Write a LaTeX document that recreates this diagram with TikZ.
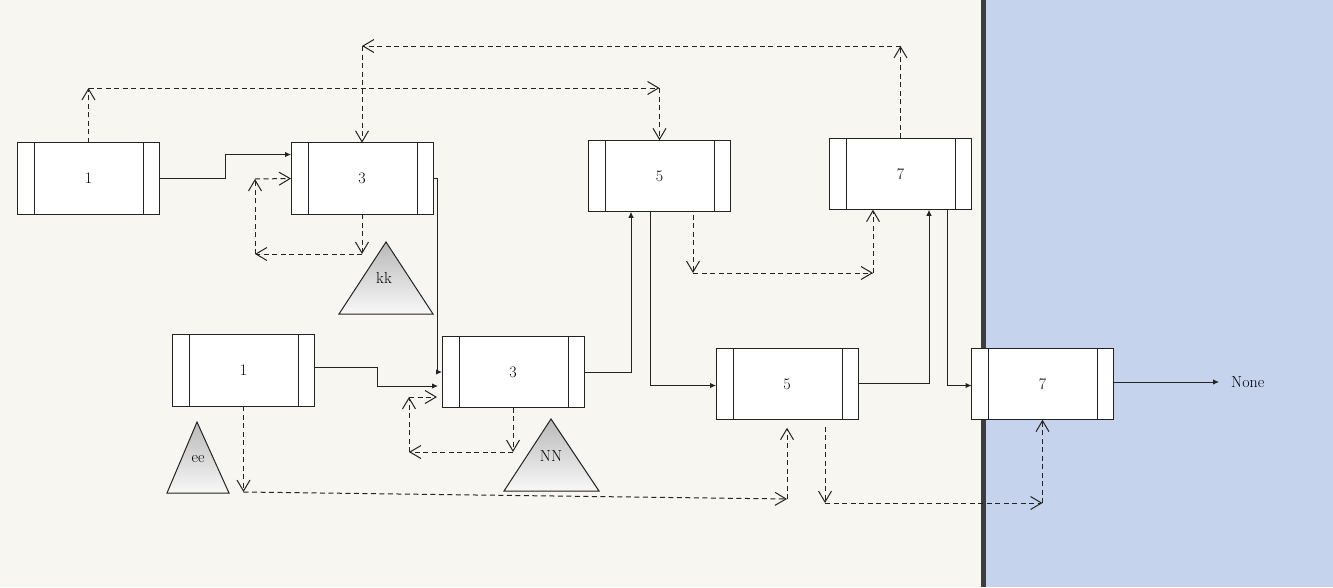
\documentclass[tikz,border=0pt]{standalone}
\usetikzlibrary{arrows.meta}
\definecolor{cream}{RGB}{248,246,240}
\definecolor{paneblue}{RGB}{197,211,237}
\definecolor{bar}{RGB}{60,60,60}
\definecolor{ink}{RGB}{35,35,35}
\definecolor{trtop}{RGB}{185,185,185}
\definecolor{trbot}{RGB}{248,248,248}
\begin{document}
\begin{tikzpicture}[x=1pt,y=-1pt,
  cell/.style={draw=ink, line width=1pt, fill=white, rectangle, inner sep=0pt, outer sep=0pt,
    minimum width=142pt, minimum height=71.5pt, font=\fontsize{16}{18}\selectfont,
    path picture={\draw[ink, line width=1pt]
      ([xshift=17pt]path picture bounding box.north west) -- ([xshift=17pt]path picture bounding box.south west)
      ([xshift=-16pt]path picture bounding box.north east) -- ([xshift=-16pt]path picture bounding box.south east);}},
  sarr/.style={draw=ink, line width=1pt, -{Latex[length=6pt,width=5.5pt]}},
  darr/.style={draw=ink, line width=1pt, dash pattern=on 5pt off 3.5pt, -{Straight Barb[length=11pt,width=13pt]}},
  tri/.style={draw=ink, line width=1pt, top color=trtop, bottom color=trbot},
  lbl/.style={inner sep=0pt, font=\fontsize{16}{18}\selectfont}]
\useasboundingbox (0,0) rectangle (1333,587);
% background panes
\fill[cream] (0,0) rectangle (981,587);
\fill[paneblue] (986,0) rectangle (1333,587);
\fill[bar] (981,0) rectangle (986,587);

% boxes
\node[cell] (A1) at (88.5,178.5) {1};
\node[cell] (A3) at (362,178.5) {3};
\node[cell] (A5) at (659.5,176) {5};
\node[cell] (A7) at (900.5,174) {7};
\node[cell] (B1) at (243.5,370.5) {1};
\node[cell] (B3) at (513,372) {3};
\node[cell] (B5) at (787,384) {5};
\node[cell] (B7) at (1042.5,384) {7};

% triangles
\shade[tri] (386,242) -- (433,314) -- (339,314) -- cycle;
\node[lbl] (kk) at (384,278) {kk};
\shade[tri] (551,419) -- (599,491) -- (504,491) -- cycle;
\node[lbl] (NN) at (551,456) {NN};
\shade[tri] (197,422) -- (229,493) -- (167,493) -- cycle;
\node[lbl] (ee) at (198,459) {ee};

% None label
\node[lbl, anchor=west] (none) at (1231,382) {None};

% solid connectors
\draw[sarr] (A1.east) -- (225,178.5) |- ([yshift=24pt]A3.west);
\draw[sarr] (A3.east) -- ++(4.5,0) |- (B3.west);
\draw[sarr, shorten >=4pt] ([yshift=3pt]B1.east) -- (377,367.5) |- ([yshift=-14pt]B3.west);
\draw[sarr] (B3.east) -| ([xshift=-28.5pt]A5.south);
\draw[sarr] ([xshift=-9.5pt]A5.south) |- ([yshift=-1.5pt]B5.west);
\draw[sarr] ([yshift=1pt]B5.east) -| ([xshift=28.5pt]A7.south);
\draw[sarr] ([xshift=47pt]A7.south) |- ([yshift=-1.5pt]B7.west);
\draw[sarr, shorten >=12pt] ([yshift=2pt]B7.east) -- (none.west |- 0,382);

% dashed connectors
\coordinate (a1) at (88.5,88);
\coordinate (a2) at (659.5,88);
\draw[darr] (A1.north) -- (a1);
\draw[darr] (a1) -- (a2);
\draw[darr] (a2) -- (A5.north);

\coordinate (b1) at (900.5,46);
\coordinate (b2) at (362,46);
\draw[darr] (A7.north) -- (b1);
\draw[darr] (b1) -- (b2);
\draw[darr] (b2) -- (A3.north);

\coordinate (c1) at (362,254);
\coordinate (c2) at (255,254);
\coordinate (c3) at (255,179);
\draw[darr] (A3.south) -- (c1);
\draw[darr] (c1) -- (c2);
\draw[darr] (c2) -- (c3);
\draw[darr] (c3) -- (A3.west);

\coordinate (d1) at (693,273);
\coordinate (d2) at (873,273);
\draw[darr, shorten <=3pt] ([xshift=33.5pt]A5.south) -- (d1);
\draw[darr] (d1) -- (d2);
\draw[darr] (d2) -- ([xshift=-27.5pt]A7.south);

\coordinate (e1) at (513,452);
\coordinate (e2) at (409,452);
\coordinate (e3) at (409,397);
\draw[darr] (B3.south) -- (e1);
\draw[darr] (e1) -- (e2);
\draw[darr] (e2) -- (e3);
\draw[darr, shorten >=5pt] (e3) -- ([yshift=-25pt]B3.west);

\coordinate (f1) at (243.5,492);
\coordinate (f2) at (787,499);
\draw[darr] (B1.south) -- (f1);
\draw[darr] (f1) -- (f2);
\draw[darr, shorten >=8pt] (f2) -- (B5.south);

\coordinate (g1) at (825,503);
\coordinate (g2) at (1042.5,503);
\draw[darr, shorten <=7pt] ([xshift=38pt]B5.south) -- (g1);
\draw[darr] (g1) -- (g2);
\draw[darr] (g2) -- (B7.south);
\end{tikzpicture}
\end{document}
